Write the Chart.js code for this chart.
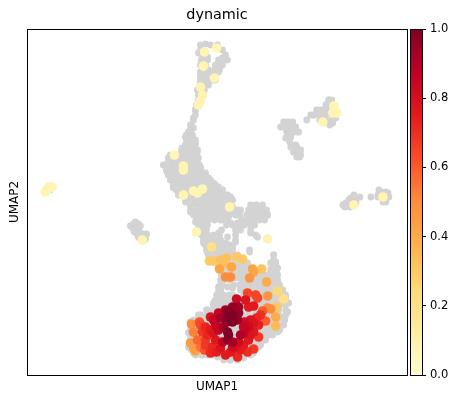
<!DOCTYPE html>
<html>
<head>
<meta charset="utf-8">
<script src="https://cdn.jsdelivr.net/npm/chart.js@4"></script>
<style>
    html, body { margin: 0; padding: 0; background: #fff; overflow: hidden; }
    canvas { position: absolute; top: 0; }
</style>
</head>
<body>
<canvas id="umap" width="458" height="402" style="left:0"></canvas>
<canvas id="cbar" width="58" height="402" style="left:400px"></canvas>
<script>
// Values (axis units are the picture's own reading grid)
const greyX = [200,205,210,200,198,202,207,217,222,225,227,222,218,215,222,218,213,207,200,200,205,200,208,197,203,200,195,193,190,193,188,192,185,195,187,182,190,197,178,168,163,170,175,183,190,198,167,172,178,187,193,200,205,208,170,177,183,192,200,173,180,188,203,213,218,178,185,193,200,208,215,222,230,225,190,197,207,217,232,
    185,192,198,190,197,203,210,217,215,225,232,240,255,250,260,267,258,250,243,237,230,223,238,228,250,257,235,227,218,203,195,202,203,210,217,225,232,217,223,207,230,249,273,275,270,277,272,267,260,255,242,247,240,235,220,218,227,220,232,240,258,273,277,282,285,288,287,282,283,277,270,263,258,253,243,230,217,203,193,188,188,190,198,207,213,217,223,232,220,260,263,272,275,267,260,267,257,247,240,200,237,
    328,325,333,320,313,310,306,332,335,328,323,285,280,285,292,298,293,287,285,290,295,290,293,300,300,297,
    342,348,353,359,355,347,370,378,387,377,385,382,
    130,135,140,134,140,146,143,138,46,50];
const greyY = [45,44,45,50,53,58,57,45,50,55,60,58,63,68,65,72,75,72,72,77,78,82,85,90,93,102,110,118,125,128,132,138,137,143,145,148,152,152,155,158,165,162,163,157,162,158,173,170,173,170,170,167,173,178,180,180,180,178,177,188,187,187,183,183,187,195,197,193,197,193,193,190,197,195,205,205,203,203,200,
    202,203,202,212,213,210,207,202,210,208,207,210,205,210,208,215,217,217,222,223,223,220,215,217,233,237,242,237,233,223,222,233,243,238,242,243,247,252,252,253,255,252,255,262,263,268,272,275,277,278,267,263,275,278,280,287,287,291,288,288,283,280,283,290,297,303,312,318,325,332,333,340,347,353,358,360,357,355,353,347,333,322,315,310,303,298,295,295,310,300,287,300,313,323,327,333,327,317,333,340,303,
    100,105,108,110,115,115,120,123,118,113,118,122,127,128,122,132,132,133,138,137,145,147,152,150,155,153,
    205,200,195,197,202,205,197,190,193,195,202,197,
    226,222,226,232,233,235,241,237,189,190];

// Gri kumenin icini dolduran satirlar (her satir icin y ve x degerleri)
const greyRowY = [60,65,70,75,80,85,90,95,100,105,110,115,120,125,130,135,140,145,150,155,160,165,170,175,180,185,190,195,200,205,210,215,220,225,230,235,240,245,250,255,260,265,270,275,280,285,290,295,300,305,310,315,320,325,330,335,340,345,350,355,360,
    100,105,110,115,120,125,122,127,132,137,142,147,152,157,198,203,207,192,197,202,224,229,234,239];
const greyRowX = [
    [201,207,218,224],[200,205,215,221],[208,214,219],[200,206,212,215],[200,206,212,215],[200,205],[200,204],[198,202],[198],[196],[195],[195],[193],[191],[190],
    [186,192],[186,192,195],[185,191,195],[181,187,192,197],[170,176,182,188,194],[168,174,180,186,192,197],[165,171,177,183,189,195,199],[166,172,178,184,190,196,200],
    [168,174,180,186,192,198,205],[171,177,183,189,195,201,207,210],[173,179,185,191,197,203,209,215],[176,182,188,194,200,206,212,218,222],[180,186,192,198,204,210,216,222,227],
    [185,191,197,203,209,215,221,227,230],[190,196,202,208,214,220,226,230,250,256,262],[190,196,202,208,214,220,226,232,237,248,254,260,266],[193,199,205,211,217,223,229,235,239,246,252,258,264,267],
    [196,202,208,214,220,226,241,247,253,259,264],[198,204,207,226,232,238,244,250,254],[200,206,221,235,240,250],[201,207,213,219,235,255],[203,209,215,220,235],[205,211,217,223,229],
    [206,212,218,224,230,232,249],[208,214,220,226,232,237,273],[210,216,222,228,234,240,273],[218,224,230,236,242,247,271,275],[220,226,232,238,244,250,254,270,276],
    [221,227,233,239,245,251,257,263,269,275,277],[223,229,241,247,253,259,265,271,277],[220,222,233,239,245,251,257,263,269,275,279],[218,220,240,246,252,258,264,270,276,282],
    [216,222,229,243,249,255,261,267,273,279,285],[215,221,227,233,239,245,251,257,263,269,275,281,285],[213,219,225,231,237,243,249,255,261,267,273,279,285],
    [206,212,218,224,230,236,242,248,254,260,266,272,278,285],[200,206,212,218,224,230,236,242,248,254,260,266,272,278,285],[193,199,205,211,217,223,229,235,241,247,253,259,265,271,277,284],
    [191,197,203,209,215,221,227,233,239,245,251,257,263,269,275,282],[190,196,202,208,214,220,226,232,238,244,250,256,262,268,274,279],[190,196,202,208,214,220,226,232,238,244,250,256,262,268,272],
    [190,196,202,208,214,220,226,232,238,244,250,256,262,265],[190,196,202,208,214,220,226,232,238,244,250,256,260],[191,197,203,209,215,221,227,233,239,245,251,255],[195,201,207,213,219,225,231,237,243,250],[223,229,237],
    [328,331],[326,331],[316,322,328,333],[313,319,325,331],[319,325,331],[329],
    [283,288],[283,289,295],[286,292,297],[287,290],[289],[291,296],[293,299],[296,299],
    [350,356],[345,350,355],[344,349],[380,385],[377,383,388],[382],
    [133,138],[133,138],[137,142,146],[140,145]
];

const hotX = [216,204,203,214,200,202,200,198,174,183,183,183,193,197,202,229,333,332,336,322,353,382,142,49,52,47,45,
    196,267,211,209,213,220,226,223,236,242,231,219,225,230,252,253,261,249,266,277,283,267,247,255,257,236,245,253,248,270,267,276,275,275,260,265,
    232,238,225,218,232,238,232,227,220,210,237,248,253,243,240,228,227,232,250,253,258,213,210,205,207,199,191,193,202,190,195,193,200,205,212,210,220,225,237,235,243,253,247,240,215,223,244,227,213,232,222,243,250,
    228,226,218,238,248,205,215,244,200,197,204,216,230,258,256,262];
const hotY = [48,52,66,78,87,95,101,105,155,166,170,195,191,193,189,207,106,113,113,122,205,197,240,187,187,190,192,
    232,239,247,261,261,260,258,264,257,259,267,269,277,277,269,272,269,278,282,291,299,296,293,295,298,299,300,306,307,309,308,307,317,326,315,321,
    307,307,310,313,315,313,322,317,318,317,320,327,323,333,335,335,340,342,335,332,337,333,330,327,335,322,324,332,332,343,351,348,347,345,347,353,348,355,357,348,345,349,352,350,325,327,329,332,320,347,342,327,320,
    312,322,330,342,340,340,340,322,325,340,350,352,352,325,318,311];
const hotValues = [0.06,0.07,0.07,0.07,0.08,0.08,0.08,0.08,0.06,0.07,0.07,0.07,0.07,0.07,0.07,0.07,0.07,0.07,0.07,0.07,0.07,0.07,0.07,0.07,0.07,0.07,0.07,
    0.07,0.07,0.2,0.3,0.3,0.33,0.33,0.33,0.3,0.3,0.42,0.42,0.5,0.5,0.42,0.42,0.32,0.47,0.4,0.25,0.2,0.47,0.65,0.65,0.65,0.82,0.78,0.75,0.75,0.5,0.5,0.3,0.4,0.35,0.7,0.6,
    0.95,0.92,0.92,0.85,1,0.95,1,1,0.92,0.78,0.95,0.82,0.78,0.85,0.9,1,0.95,0.92,0.78,0.76,0.68,0.78,0.75,0.72,0.72,0.62,0.5,0.52,0.68,0.45,0.42,0.45,0.55,0.68,0.72,0.72,0.78,0.75,0.72,0.78,0.75,0.68,0.7,0.74,0.85,0.92,0.85,1,0.85,0.82,0.85,0.85,0.78,
    1,0.97,0.85,0.82,0.76,0.66,0.76,0.82,0.65,0.58,0.62,0.74,0.76,0.74,0.72,0.6];

const cbarTicks = [0, 0.2, 0.4, 0.6, 0.8, 1];
const ylOrRd = ['#ffffcc', '#ffeda0', '#fed976', '#feb24c', '#fd8d3c', '#fc4e2a', '#e31a1c', '#bd0026', '#800026'];

// Renk skalasi
function colorFor(value) {
    const pos = Math.min(value, 1) * (ylOrRd.length - 1);
    const low = Math.floor(pos);
    const high = Math.min(low + 1, ylOrRd.length - 1);
    const mix = pos - low;
    const channels = [1, 3, 5].map(i => {
        const a = parseInt(ylOrRd[low].substr(i, 2), 16);
        const b = parseInt(ylOrRd[high].substr(i, 2), 16);
        return Math.round(a + (b - a) * mix);
    });
    return `rgb(${channels.join(',')})`;
}

Chart.defaults.font.family = '"DejaVu Sans"';
Chart.defaults.color = '#000';

// Grafigin etrafina siyah cerceve
const framePlugin = {
    id: 'frame',
    afterDraw(chart) {
        const a = chart.chartArea;
        const ctx = chart.ctx;
        ctx.save();
        ctx.strokeStyle = '#000';
        ctx.lineWidth = 1;
        ctx.strokeRect(a.left + 0.5, a.top + 0.5, a.right - a.left, a.bottom - a.top);
        ctx.restore();
    }
};

// Yuksek degerler en ustte cizilsin
const hotOrder = hotValues.map((v, i) => i).sort((a, b) => hotValues[a] - hotValues[b]);

const greyPoints = greyX.map((x, i) => ({ x: x, y: greyY[i] }));
greyRowY.forEach((y, r) => greyRowX[r].forEach(x => greyPoints.push({ x: x, y: y })));

new Chart(document.getElementById('umap'), {
    type: 'scatter',
    data: {
        datasets: [
            {
                label: 'dynamic',
                data: hotOrder.map(i => ({ x: hotX[i], y: hotY[i] })),
                backgroundColor: hotOrder.map(i => colorFor(hotValues[i])),
                pointRadius: 4.8,
                borderWidth: 0,
                order: 0
            },
            {
                label: 'rest',
                data: greyPoints,
                backgroundColor: '#d3d3d3',
                pointRadius: 3.4,
                borderWidth: 0,
                order: 1
            }
        ]
    },
    options: {
        responsive: false,
        animation: false,
        layout: { padding: { left: 7, right: 51, top: 0, bottom: 7 } },
        plugins: {
            legend: { display: false },
            tooltip: { enabled: false }
        },
        scales: {
            x: {
                type: 'linear', min: 27, max: 406,
                grid: { display: false },
                ticks: { display: false },
                title: { display: true, text: 'UMAP1', font: { size: 12 }, padding: { top: 0, bottom: 1 } },
                afterFit(scale) { scale.height = 20; }
            },
            // ust eksen sadece baslik icin
            top: {
                type: 'linear', axis: 'x', position: 'top', min: 27, max: 406,
                grid: { display: false },
                ticks: { display: false },
                title: { display: true, text: 'dynamic', font: { size: 14.4 }, padding: { top: 7, bottom: 0 } },
                afterFit(scale) { scale.height = 29; }
            },
            y: {
                type: 'linear', min: 29, max: 375, reverse: true,
                grid: { display: false },
                ticks: { display: false },
                title: { display: true, text: 'UMAP2', font: { size: 12 }, padding: { top: 1, bottom: 0 } },
                afterFit(scale) { scale.width = 20; }
            }
        }
    },
    plugins: [framePlugin]
});

new Chart(document.getElementById('cbar'), {
    type: 'bar',
    data: {
        labels: ['dynamic'],
        datasets: [{
            data: [1],
            barPercentage: 1,
            categoryPercentage: 1,
            backgroundColor(context) {
                const area = context.chart.chartArea;
                if (!area) return '#800026';
                const gradient = context.chart.ctx.createLinearGradient(0, area.bottom, 0, area.top);
                ylOrRd.forEach((c, i) => gradient.addColorStop(i / (ylOrRd.length - 1), c));
                return gradient;
            }
        }]
    },
    options: {
        responsive: false,
        animation: false,
        layout: { padding: { left: 10, right: 0, top: 29, bottom: 27 } },
        plugins: { legend: { display: false }, tooltip: { enabled: false } },
        scales: {
            x: { display: false },
            y: {
                position: 'right',
                min: 0, max: 1,
                grid: { drawOnChartArea: false, tickLength: 4, tickColor: '#000' },
                border: { display: false },
                ticks: {
                    font: { size: 11.5 },
                    padding: 4,
                    stepSize: 0.2,
                    callback: value => cbarTicks.includes(Math.round(value * 10) / 10) ? value.toFixed(1) : ''
                },
                afterFit(scale) { scale.width = 36; }
            }
        }
    },
    plugins: [framePlugin]
});
</script>
</body>
</html>
